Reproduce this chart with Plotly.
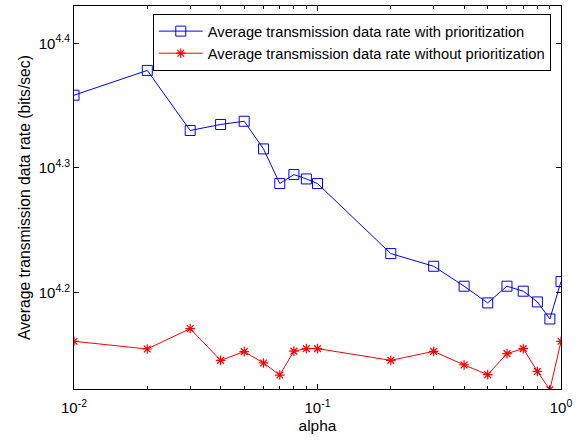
import plotly.graph_objects as go

alpha = [0.01, 0.02, 0.03, 0.04, 0.05, 0.06, 0.07, 0.08, 0.09, 0.1,
         0.2, 0.3, 0.4, 0.5, 0.6, 0.7, 0.8, 0.9, 1.0]
exp_with = [4.3584, 4.3783, 4.3301, 4.3349, 4.3375, 4.3153, 4.2875, 4.2947, 4.2912, 4.2875,
            4.2313, 4.2211, 4.2051, 4.1917, 4.2051, 4.2011, 4.1925, 4.1788, 4.2088]
exp_without = [4.1609, 4.1547, 4.1711, 4.1456, 4.1526, 4.1435, 4.1338, 4.1530, 4.1550, 4.1550,
               4.1456, 4.1528, 4.1419, 4.1341, 4.1510, 4.1550, 4.1367, 4.1220, 4.1609]
rate_with = [10 ** e for e in exp_with]
rate_without = [10 ** e for e in exp_without]

x_tick_vals = [0.01, 0.1, 1]
x_tick_text = ["10<sup>-2</sup>", "10<sup>-1</sup>", "10<sup>0</sup>"]
x_minor_vals = [m * d for d in (0.01, 0.1) for m in range(2, 10)]
y_tick_exps = [4.2, 4.3, 4.4]
y_tick_vals = [10 ** e for e in y_tick_exps]
y_tick_text = ["10<sup>4.2</sup>", "10<sup>4.3</sup>", "10<sup>4.4</sup>"]

FONT = "Liberation Sans, Arial, Helvetica, sans-serif"

fig = go.Figure()
fig.add_trace(go.Scatter(
    x=alpha, y=rate_with, mode="lines+markers",
    name="Average transmission data rate with prioritization",
    line=dict(color="#0000ff", width=1),
    marker=dict(symbol="square-open", size=10, color="#0000ff", line=dict(width=1)),
))
fig.add_trace(go.Scatter(
    x=alpha, y=rate_without, mode="lines+markers",
    name="Average transmission data rate without prioritization",
    line=dict(color="#ff0000", width=1),
    marker=dict(symbol="asterisk-open", size=8, color="#ff0000", line=dict(width=1.2, color="#ff0000")),
))

axis_common = dict(
    showline=True, linecolor="black", linewidth=1, mirror="ticks",
    ticks="inside", ticklen=5, tickcolor="black", showgrid=False, zeroline=False,
    tickfont=dict(family=FONT, size=15, color="black"),
)

fig.update_xaxes(
    type="log", range=[-2, 0],
    tickmode="array", tickvals=x_tick_vals, ticktext=x_tick_text,
    minor=dict(tickmode="array", tickvals=x_minor_vals, ticks="inside", ticklen=3,
               tickcolor="black", showgrid=False),
    ticklabelstandoff=5,
    title=dict(text="alpha", font=dict(family=FONT, size=15.5, color="black"), standoff=5),
    **axis_common,
)
fig.update_yaxes(
    type="log", range=[4.1226, 4.430],
    tickmode="array", tickvals=y_tick_vals, ticktext=y_tick_text,
    title=dict(text="Average transmission data rate (bits/sec)",
               font=dict(family=FONT, size=15.7, color="black"), standoff=4),
    **axis_common,
)

fig.update_layout(
    width=576, height=441,
    margin=dict(l=74, r=15, t=6, b=52, autoexpand=False),
    paper_bgcolor="white", plot_bgcolor="white",
    showlegend=True,
    legend=dict(
        x=0.979, y=0.979, xanchor="right", yanchor="top",
        bgcolor="white", bordercolor="black", borderwidth=1,
        font=dict(family=FONT, size=14.7, color="black"),
        itemwidth=44, tracegroupgap=0,
    ),
)

fig.write_html("out.html", config={"displayModeBar": False},
               post_script="document.body.style.margin='0';document.body.style.padding='0';")
